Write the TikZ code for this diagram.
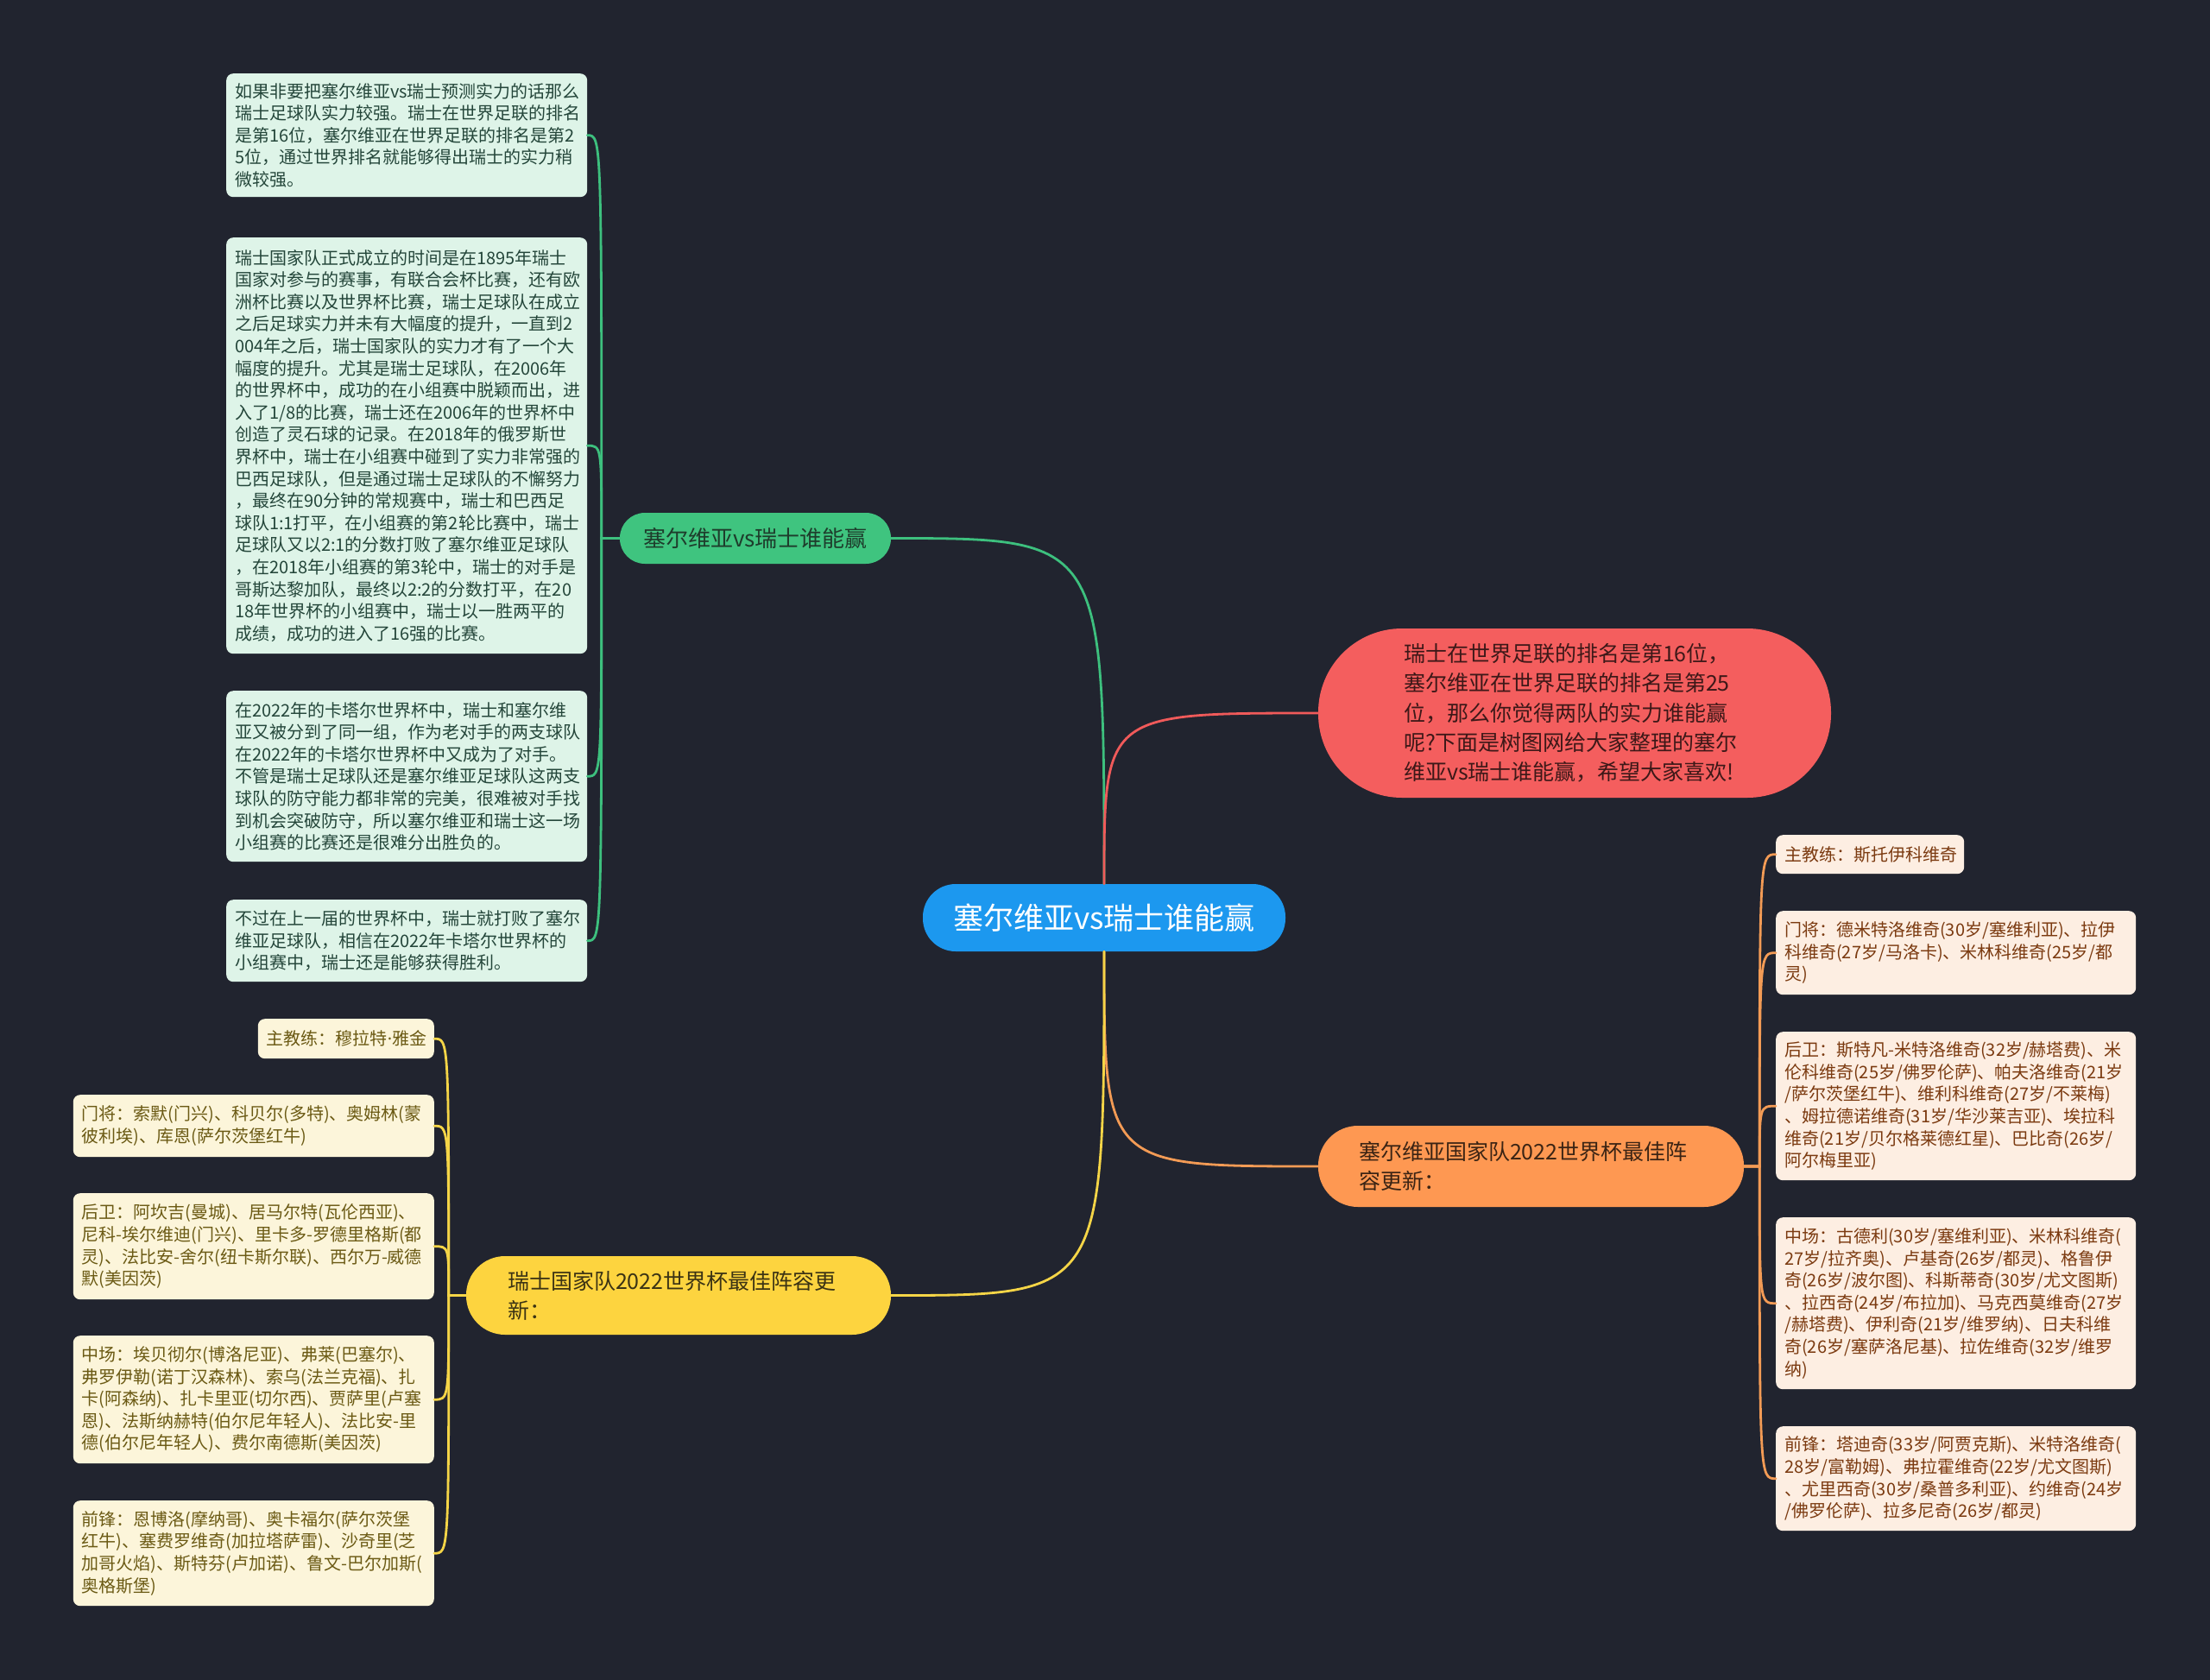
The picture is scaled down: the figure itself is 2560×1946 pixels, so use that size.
\documentclass[tikz,border=0pt]{standalone}
\usepackage{fontspec}
\setmainfont{Noto Sans CJK SC}
\newfontfamily\latinsans{Noto Sans}
\usetikzlibrary{calc}
\definecolor{bgc}{HTML}{21242F}
\definecolor{rootc}{HTML}{1C98EF}
\definecolor{gbc}{HTML}{3FC47F}
\definecolor{gbt}{HTML}{1E3D2C}
\definecolor{gleafc}{HTML}{DEF4E8}
\definecolor{gleaft}{HTML}{24463A}
\definecolor{gline}{HTML}{3DC07E}
\definecolor{redc}{HTML}{F45E5E}
\definecolor{redt}{HTML}{3D1818}
\definecolor{rline}{HTML}{F05A5A}
\definecolor{obc}{HTML}{FE9852}
\definecolor{obt}{HTML}{3B2414}
\definecolor{oleafc}{HTML}{FDEEE2}
\definecolor{oleaft}{HTML}{7B3A10}
\definecolor{oline}{HTML}{F39B55}
\definecolor{ybc}{HTML}{FDD43F}
\definecolor{ybt}{HTML}{3B3314}
\definecolor{yleafc}{HTML}{FCF5DA}
\definecolor{yleaft}{HTML}{6B5A14}
\definecolor{yline}{HTML}{F5D547}
\begin{document}
\begin{tikzpicture}[x=1pt,y=-1pt,
  leafbase/.style={rounded corners=8pt, inner xsep=10pt, inner ysep=8pt, align=left, font=\fontsize{20}{25.6}\selectfont},
  gleaf/.style={leafbase, anchor=north west, fill=gleafc, text=gleaft, text width=398pt},
  oleaf/.style={leafbase, anchor=north west, fill=oleafc, text=oleaft, text width=397pt},
  yleaf/.style={leafbase, anchor=north east, fill=yleafc, text=yleaft, text width=398pt},
  branchtxt/.style={align=left, inner ysep=0pt, font=\fontsize{25}{34.3}\selectfont},
  conn/.style={line width=2.8pt, line cap=round}
]
\useasboundingbox (0,0) rectangle (2560,1946);
\fill[bgc] (0,0) rectangle (2560,1946);

% root
\node[fill=rootc, text=white, minimum width=420pt, minimum height=78pt, rounded corners=38pt, inner sep=0pt, font=\fontsize{35}{40}\selectfont] (root) at (1279,1063) {塞尔维亚vs瑞士谁能赢};

% branches
\node[fill=gbc, text=gbt, minimum width=314pt, minimum height=59pt, rounded corners=29pt, inner sep=0pt, font=\fontsize{26}{30}\selectfont] (gb) at (875,623.5) {塞尔维亚vs瑞士谁能赢};

\node[branchtxt, fill=redc, text=redt, text width=396pt, inner xsep=99pt, minimum height=196pt, rounded corners=97pt] (red) at (1824,826)
{瑞士在世界足联的排名是第16位，\\塞尔维亚在世界足联的排名是第25\\位，那么你觉得两队的实力谁能赢\\呢?下面是树图网给大家整理的塞尔\\维亚vs瑞士谁能赢，希望大家喜欢!};

\node[branchtxt, fill=obc, text=obt, text width=399pt, inner xsep=47pt, minimum height=94pt, rounded corners=46pt] (ob) at (1773.5,1351)
{塞尔维亚国家队2022世界杯最佳阵\\容更新：};

\node[branchtxt, fill=ybc, text=ybt, text width=396pt, inner xsep=48pt, minimum height=91pt, rounded corners=45pt] (yb) at (786,1500.5)
{瑞士国家队2022世界杯最佳阵容更\\新：};

% green leaves
\node[gleaf, minimum height=143pt] (L1) at (262,85)
{如果非要把塞尔维亚vs瑞士预测实力的话那么\\瑞士足球队实力较强。瑞士在世界足联的排名\\是第16位，塞尔维亚在世界足联的排名是第2\\5位，通过世界排名就能够得出瑞士的实力稍\\微较强。};
\node[gleaf, minimum height=482pt] (L2) at (262,275)
{瑞士国家队正式成立的时间是在1895年瑞士\\国家对参与的赛事，有联合会杯比赛，还有欧\\洲杯比赛以及世界杯比赛，瑞士足球队在成立\\之后足球实力并未有大幅度的提升，一直到2\\004年之后，瑞士国家队的实力才有了一个大\\幅度的提升。尤其是瑞士足球队，在2006年\\的世界杯中，成功的在小组赛中脱颖而出，进\\入了1/8的比赛，瑞士还在2006年的世界杯中\\创造了灵石球的记录。在2018年的俄罗斯世\\界杯中，瑞士在小组赛中碰到了实力非常强的\\巴西足球队，但是通过瑞士足球队的不懈努力\\，最终在90分钟的常规赛中，瑞士和巴西足\\球队1:1打平，在小组赛的第2轮比赛中，瑞士\\足球队又以2:1的分数打败了塞尔维亚足球队\\，在2018年小组赛的第3轮中，瑞士的对手是\\哥斯达黎加队，最终以2:2的分数打平，在20\\18年世界杯的小组赛中，瑞士以一胜两平的\\成绩，成功的进入了16强的比赛。};
\node[gleaf, minimum height=198pt] (L3) at (262,800)
{在2022年的卡塔尔世界杯中，瑞士和塞尔维\\亚又被分到了同一组，作为老对手的两支球队\\在2022年的卡塔尔世界杯中又成为了对手。\\不管是瑞士足球队还是塞尔维亚足球队这两支\\球队的防守能力都非常的完美，很难被对手找\\到机会突破防守，所以塞尔维亚和瑞士这一场\\小组赛的比赛还是很难分出胜负的。};
\node[gleaf, minimum height=95pt] (L4) at (262,1042)
{不过在上一届的世界杯中，瑞士就打败了塞尔\\维亚足球队，相信在2022年卡塔尔世界杯的\\小组赛中，瑞士还是能够获得胜利。};

% orange leaves
\node[oleaf, text width=198pt, minimum height=45pt] (O1) at (2057,967) {主教练：斯托伊科维奇};
\node[oleaf, minimum height=97pt] (O2) at (2057,1055)
{门将：德米特洛维奇(30岁/塞维利亚)、拉伊\\科维奇(27岁/马洛卡)、米林科维奇(25岁/都\\灵)};
\node[oleaf, minimum height=172pt] (O3) at (2057,1195)
{后卫：斯特凡-米特洛维奇(32岁/赫塔费)、米\\伦科维奇(25岁/佛罗伦萨)、帕夫洛维奇(21岁\\/萨尔茨堡红牛)、维利科维奇(27岁/不莱梅)\\、姆拉德诺维奇(31岁/华沙莱吉亚)、埃拉科\\维奇(21岁/贝尔格莱德红星)、巴比奇(26岁/\\阿尔梅里亚)};
\node[oleaf, minimum height=199pt] (O4) at (2057,1410)
{中场：古德利(30岁/塞维利亚)、米林科维奇(\\27岁/拉齐奥)、卢基奇(26岁/都灵)、格鲁伊\\奇(26岁/波尔图)、科斯蒂奇(30岁/尤文图斯)\\、拉西奇(24岁/布拉加)、马克西莫维奇(27岁\\/赫塔费)、伊利奇(21岁/维罗纳)、日夫科维\\奇(26岁/塞萨洛尼基)、拉佐维奇(32岁/维罗\\纳)};
\node[oleaf, minimum height=121pt] (O5) at (2057,1652)
{前锋：塔迪奇(33岁/阿贾克斯)、米特洛维奇(\\28岁/富勒姆)、弗拉霍维奇(22岁/尤文图斯)\\、尤里西奇(30岁/桑普多利亚)、约维奇(24岁\\/佛罗伦萨)、拉多尼奇(26岁/都灵)};

% yellow leaves
\node[yleaf, text width=184pt, minimum height=46pt] (Y1) at (503,1180) {主教练：穆拉特{\latinsans ·}雅金};
\node[yleaf, minimum height=72pt] (Y2) at (503,1268)
{门将：索默(门兴)、科贝尔(多特)、奥姆林(蒙\\彼利埃)、库恩(萨尔茨堡红牛)};
\node[yleaf, minimum height=123pt] (Y3) at (503,1382)
{后卫：阿坎吉(曼城)、居马尔特(瓦伦西亚)、\\尼科-埃尔维迪(门兴)、里卡多-罗德里格斯(都\\灵)、法比安-舍尔(纽卡斯尔联)、西尔万-威德\\默(美因茨)};
\node[yleaf, minimum height=148pt] (Y4) at (503,1547)
{中场：埃贝彻尔(博洛尼亚)、弗莱(巴塞尔)、\\弗罗伊勒(诺丁汉森林)、索乌(法兰克福)、扎\\卡(阿森纳)、扎卡里亚(切尔西)、贾萨里(卢塞\\恩)、法斯纳赫特(伯尔尼年轻人)、法比安-里\\德(伯尔尼年轻人)、费尔南德斯(美因茨)};
\node[yleaf, minimum height=122pt] (Y5) at (503,1738)
{前锋：恩博洛(摩纳哥)、奥卡福尔(萨尔茨堡\\红牛)、塞费罗维奇(加拉塔萨雷)、沙奇里(芝\\加哥火焰)、斯特芬(卢加诺)、鲁文-巴尔加斯(\\奥格斯堡)};

% root connectors
\draw[conn, gline] (root.north) .. controls (root.north |- gb.east) .. (gb.east);
\draw[conn, rline] (root.north) .. controls (root.north |- red.west) .. (red.west);
\draw[conn, oline] (root.south) .. controls (root.south |- ob.west) .. (ob.west);
\draw[conn, yline] (root.south) .. controls (root.south |- yb.east) .. (yb.east);

% green leaf connectors
\foreach \n in {L1,L2,L3,L4}
  \draw[conn, gline] (gb.west) -- ([xshift=-21pt]gb.west) .. controls ([xshift=-21pt]gb.west |- \n.east) .. (\n.east);
% orange leaf connectors
\foreach \n in {O1,O2,O3,O4,O5}
  \draw[conn, oline] (ob.east) -- ([xshift=18pt]ob.east) .. controls ([xshift=18pt]ob.east |- \n.west) .. (\n.west);
% yellow leaf connectors
\foreach \n in {Y1,Y2,Y3,Y4,Y5}
  \draw[conn, yline] (yb.west) -- ([xshift=-20pt]yb.west) .. controls ([xshift=-20pt]yb.west |- \n.east) .. (\n.east);
\end{tikzpicture}
\end{document}
